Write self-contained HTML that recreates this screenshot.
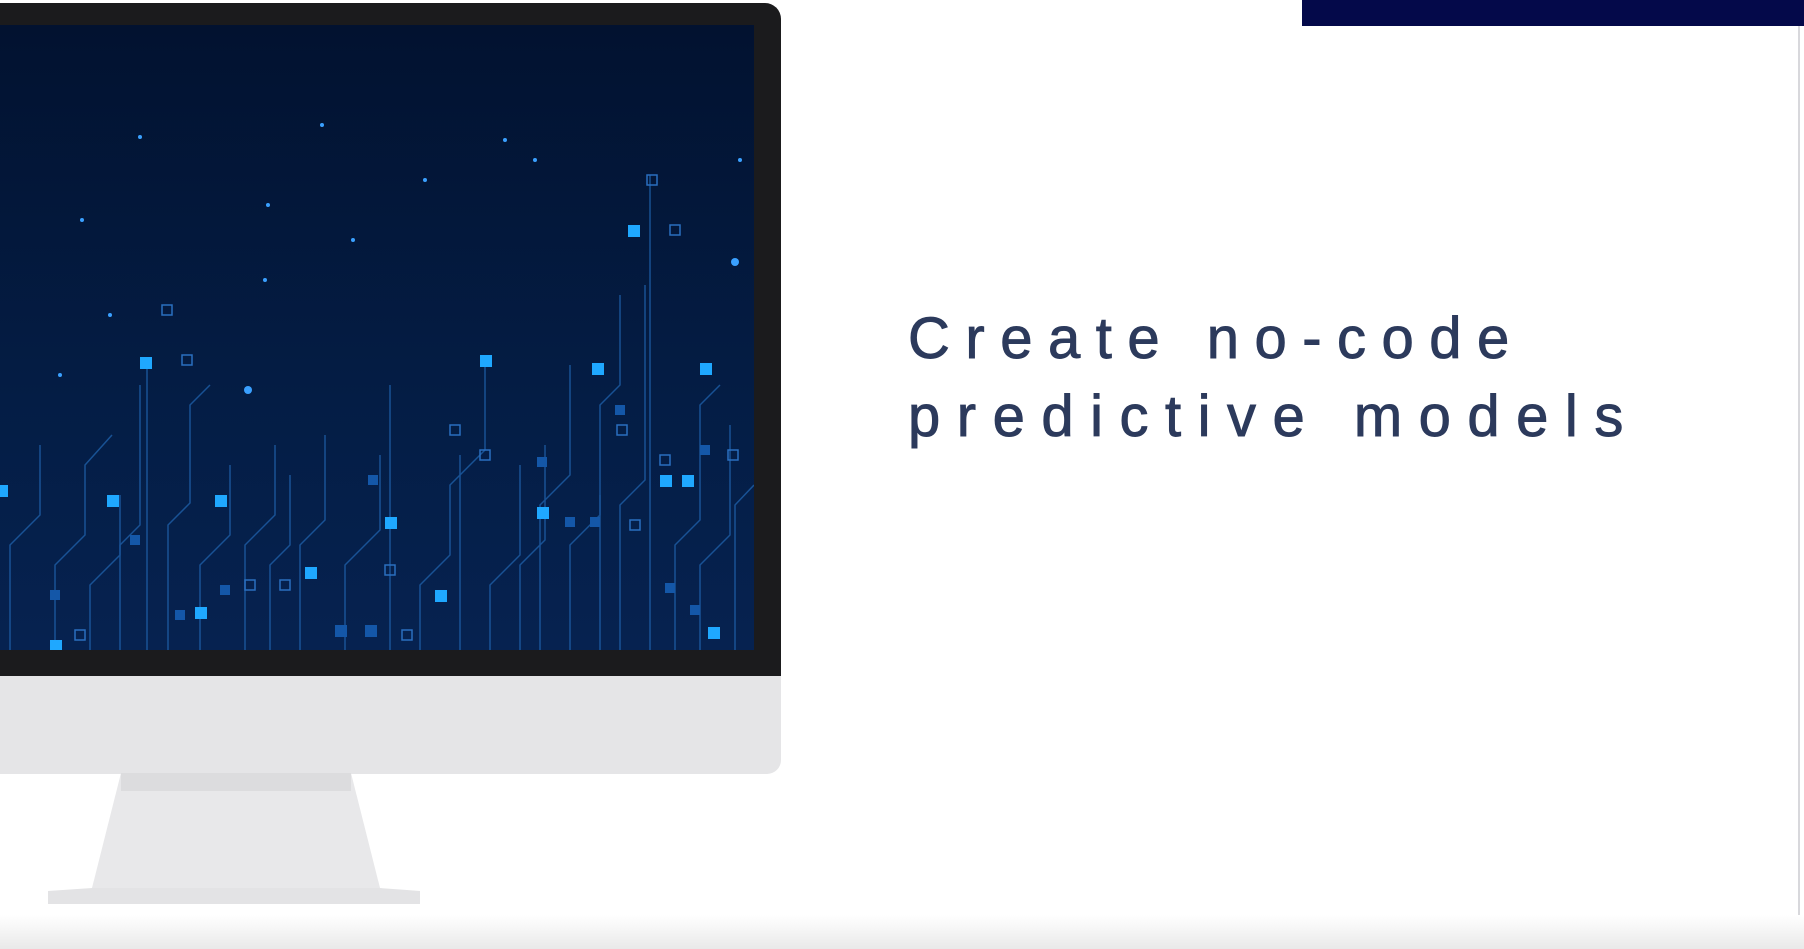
<!DOCTYPE html>
<html><head><meta charset="utf-8"><style>
html,body{margin:0;padding:0;}
body{width:1804px;height:949px;position:relative;overflow:hidden;background:#fff;font-family:"Liberation Sans",sans-serif;}
.bar{position:absolute;left:1302px;top:0;width:502px;height:26px;background:#04094a;}
.edge{position:absolute;left:1798px;top:26px;width:2px;height:923px;background:#d8d8dc;}
.bezel{position:absolute;left:0;top:3px;width:781px;height:674px;background:#1b1b1d;border-top-right-radius:16px;}
.screen{position:absolute;left:0;top:25px;width:754px;height:625px;background:linear-gradient(180deg,#021230 0%,#041d45 60%,#062250 100%);overflow:hidden;}
.chin{position:absolute;left:0;top:676px;width:781px;height:98px;background:#e5e5e7;border-bottom-right-radius:14px;}
.bottomfade{position:absolute;left:0;top:915px;width:1804px;height:34px;background:linear-gradient(180deg,#fff,#e9e9e9);}
.t{position:absolute;left:908px;color:#2c3a5c;font-size:58px;letter-spacing:15.5px;white-space:nowrap;-webkit-text-stroke:0.9px #2c3a5c;}
</style></head><body>
<div class="bar"></div>
<div class="edge"></div>
<div class="bottomfade"></div>
<div class="bezel"></div>
<div class="screen">
<svg width="754" height="625" viewBox="0 0 754 625">
<g stroke="#1e5fa8" stroke-width="1.5" fill="none" opacity="0.8">
<path d="M10 625 V520 L40 490 V420"/><path d="M55 625 V540 L85 510 V440 L112 410"/>
<path d="M90 625 V560 L120 530 V470"/><path d="M147 625 V470 V340"/>
<path d="M168 625 V500 L190 478 V380 L210 360"/><path d="M200 625 V540 L230 510 V440"/>
<path d="M245 625 V520 L275 490 V420"/><path d="M300 625 V520 L325 495 V410"/>
<path d="M345 625 V540 L380 505 V430"/><path d="M390 625 V480 V360"/>
<path d="M420 625 V560 L450 530 V460 L485 425 V330"/><path d="M460 625 V520 V430"/>
<path d="M490 625 V560 L520 530 V440"/><path d="M540 625 V480 L570 450 V340"/>
<path d="M570 625 V520 L600 490 V380 L620 360 V270"/><path d="M620 625 V480 L645 455 V260"/>
<path d="M650 625 V430 V150"/><path d="M675 625 V520 L700 495 V380 L720 360"/>
<path d="M700 625 V540 L730 510 V400"/><path d="M735 625 V480 L754 460"/>
<path d="M120 625 V520 L140 500 V360"/><path d="M270 625 V540 L290 520 V450"/>
<path d="M600 625 V560 V470"/><path d="M520 625 V540 L545 515 V420"/>
</g>
<g fill="#1fa8ff">
<rect x="140" y="332" width="12" height="12"/><rect x="107" y="470" width="12" height="12"/>
<rect x="215" y="470" width="12" height="12"/><rect x="480" y="330" width="12" height="12"/>
<rect x="628" y="200" width="12" height="12"/><rect x="700" y="338" width="12" height="12"/>
<rect x="592" y="338" width="12" height="12"/><rect x="385" y="492" width="12" height="12"/>
<rect x="537" y="482" width="12" height="12"/><rect x="305" y="542" width="12" height="12"/>
<rect x="682" y="450" width="12" height="12"/><rect x="435" y="565" width="12" height="12"/>
<rect x="195" y="582" width="12" height="12"/><rect x="708" y="602" width="12" height="12"/>
<rect x="0" y="460" width="8" height="12"/><rect x="660" y="450" width="12" height="12"/>
<rect x="50" y="615" width="12" height="10"/>
</g>
<g fill="#1457a8">
<rect x="50" y="565" width="10" height="10"/><rect x="130" y="510" width="10" height="10"/>
<rect x="368" y="450" width="10" height="10"/><rect x="537" y="432" width="10" height="10"/>
<rect x="565" y="492" width="10" height="10"/><rect x="615" y="380" width="10" height="10"/>
<rect x="700" y="420" width="10" height="10"/><rect x="665" y="558" width="10" height="10"/>
<rect x="335" y="600" width="12" height="12"/><rect x="365" y="600" width="12" height="12"/>
<rect x="220" y="560" width="10" height="10"/><rect x="175" y="585" width="10" height="10"/>
<rect x="590" y="492" width="10" height="10"/><rect x="690" y="580" width="10" height="10"/>
</g>
<g fill="none" stroke="#2a6fbf" stroke-width="1.5">
<rect x="162" y="280" width="10" height="10"/><rect x="182" y="330" width="10" height="10"/>
<rect x="647" y="150" width="10" height="10"/><rect x="670" y="200" width="10" height="10"/>
<rect x="450" y="400" width="10" height="10"/><rect x="480" y="425" width="10" height="10"/>
<rect x="617" y="400" width="10" height="10"/><rect x="660" y="430" width="10" height="10"/>
<rect x="728" y="425" width="10" height="10"/><rect x="385" y="540" width="10" height="10"/>
<rect x="280" y="555" width="10" height="10"/><rect x="245" y="555" width="10" height="10"/>
<rect x="630" y="495" width="10" height="10"/><rect x="402" y="605" width="10" height="10"/>
<rect x="75" y="605" width="10" height="10"/>
</g>
<g fill="#3aa0ff">
<circle cx="140" cy="112" r="2"/><circle cx="322" cy="100" r="2"/><circle cx="425" cy="155" r="2"/>
<circle cx="82" cy="195" r="2"/><circle cx="268" cy="180" r="2"/><circle cx="353" cy="215" r="2"/>
<circle cx="535" cy="135" r="2"/><circle cx="248" cy="365" r="4"/><circle cx="735" cy="237" r="4"/>
<circle cx="60" cy="350" r="2"/><circle cx="265" cy="255" r="2"/><circle cx="110" cy="290" r="2"/>
<circle cx="505" cy="115" r="2"/><circle cx="740" cy="135" r="2"/>
</g>
</svg>
</div>
<div class="chin"></div>
<svg style="position:absolute;left:0;top:773px" width="440" height="132">
<polygon points="121,0 351,0 380,115 92,115" fill="#e8e8ea"/>
<rect x="121" y="0" width="230" height="18" fill="#dcdcde"/>
<polygon points="92,115 380,115 420,118 420,131 48,131 48,118" fill="#e3e3e5"/>
</svg>
<div class="t" style="top:305px">Create no-code</div>
<div class="t" style="top:383px;letter-spacing:16.5px">predictive models</div>
</body></html>
